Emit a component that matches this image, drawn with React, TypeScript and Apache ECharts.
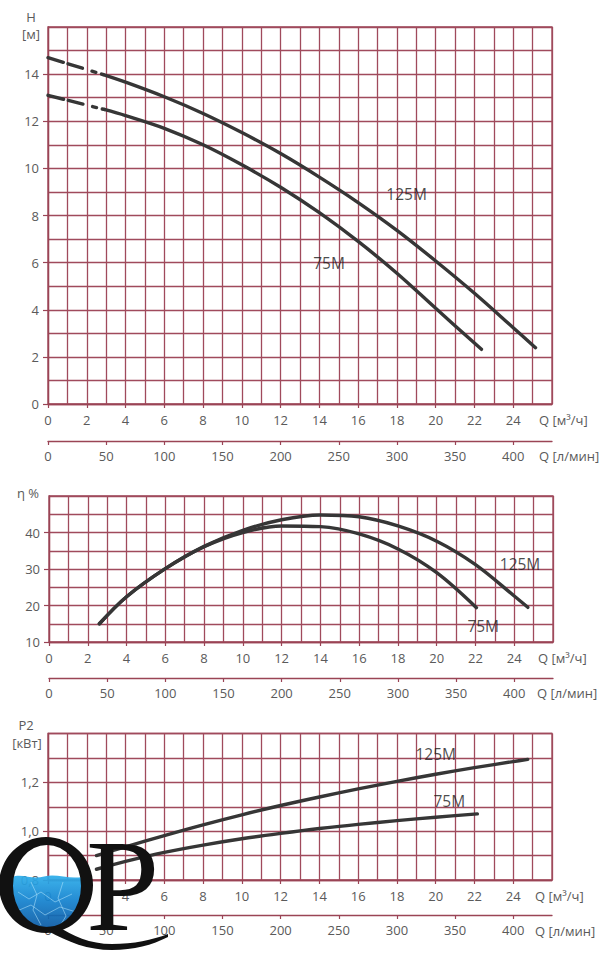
import React, { useEffect, useRef } from "react";
import * as echarts from "echarts";

// ---------- tick labels ----------
const flowTicks = [0, 2, 4, 6, 8, 10, 12, 14, 16, 18, 20, 22, 24];
const litreTicks = [0, 50, 100, 150, 200, 250, 300, 350, 400];
const headTicks = [0, 2, 4, 6, 8, 10, 12, 14];
const effTicks = [10, 20, 30, 40];
const powerTicks = [0.8, 1.0, 1.2];
const modelNames = ["125M", "75M"];

// ---------- H (head) ----------
const q125HeadDash = [0, 2.85];
const h125HeadDash = [14.7, 13.98];
const q125Head = [2.85, 4, 6, 8, 10, 12, 14, 16, 18, 20, 22, 24, 25.15];
const h125Head = [13.98, 13.66, 13.04, 12.33, 11.52, 10.63, 9.63, 8.55, 7.37, 6.07, 4.7, 3.24, 2.39];
const q75HeadDash = [0, 2.9];
const h75HeadDash = [13.1, 12.5];
const q75Head = [2.9, 4, 6, 8, 10, 12, 14, 16, 18, 20, 22.36];
const h75Head = [12.5, 12.24, 11.7, 11.0, 10.15, 9.2, 8.12, 6.9, 5.55, 4.06, 2.32];
const headLabelQ = [18.5, 14.5];
const headLabelV = [8.91, 6.0];

// ---------- η (efficiency) ----------
const q125Eff = [2.6, 4, 6, 8, 10, 12, 14, 16, 18, 20, 22, 24, 24.7];
const e125Eff = [15, 22.4, 30.1, 36.2, 40.6, 43.5, 44.8, 44.3, 41.8, 37.6, 31.2, 22.6, 19.5];
const q75Eff = [2.6, 4, 6, 8, 10, 12, 14, 16, 18, 20, 22.05];
const e75Eff = [15, 22.4, 30.1, 36.1, 40.0, 41.8, 41.6, 39.6, 35.5, 29.0, 19.4];
const effLabelQ = [24.3, 22.4];
const effLabelV = [31.3, 14.4];

// ---------- P2 (power) ----------
const q125Pow = [2.5, 4, 6, 8, 10, 12, 14, 16, 18, 20, 22, 24, 24.75];
const p125Pow = [0.9, 0.936, 0.982, 1.026, 1.067, 1.105, 1.14, 1.173, 1.204, 1.233, 1.26, 1.285, 1.294];
const q75Pow = [2.5, 4, 6, 8, 10, 12, 14, 16, 18, 20, 22.15];
const p75Pow = [0.844, 0.876, 0.913, 0.943, 0.969, 0.991, 1.011, 1.028, 1.043, 1.057, 1.071];
const powLabelQ = [20.0, 20.7];
const powLabelV = [1.316, 1.122];

const FLOW_MAX = 26;
const LITRE_MAX = (FLOW_MAX * 1000) / 60;

const FONT = '"Open Sans", "DejaVu Sans", sans-serif';
const GRID_COLOR = "#a04a5c";
const BORDER_COLOR = "#9a4455";
const LABEL_COLOR = "#5a5a5a";
const CURVE_COLOR = "#363636";

// ---------- logo shapes ----------
const ringD =
  "M -1 885 A 47 48 0 0 1 46 837 A 47 48 0 0 1 93 885 A 47 48 0 0 1 46 933 A 47 48 0 0 1 -1 885 Z " +
  "M 13 886 A 34 41 0 0 0 47 927 A 34 41 0 0 0 81 886 A 34 41 0 0 0 47 845 A 34 41 0 0 0 13 886 Z";
const tailD =
  "M 58 926 C 72 936, 90 944, 112 944 C 134 944, 152 940, 168 934 L 168 937 C 152 945, 134 950, 112 950 C 88 950, 68 942, 48 931 Z";
const waterD =
  "M 11.8 877 C 22 873, 32 880, 44 876.5 C 56 873, 68 879.5, 82.2 877 A 36 43 0 1 1 11.8 877 Z";

echarts.graphic.registerShape("qpRing", echarts.graphic.extendPath(ringD, {}));
echarts.graphic.registerShape("qpTail", echarts.graphic.extendPath(tailD, {}));
echarts.graphic.registerShape("qpWater", echarts.graphic.extendPath(waterD, {}));

const zip = (a: number[], b: number[]) => a.map((v, i) => [v, b[i]]);

const gridLineStyle = { color: GRID_COLOR, width: 1.3 };
const labelStyle = { color: LABEL_COLOR, fontFamily: FONT, fontSize: 13 };
const axisLineStyle = { show: true, onZero: false, lineStyle: { color: BORDER_COLOR, width: 1.3 } };

// main flow axis: grid lines every 1 m³/h, labels every 2
function flowAxis(gridIndex: number) {
  return {
    type: "value",
    gridIndex,
    min: 0,
    max: FLOW_MAX,
    interval: 1,
    position: "bottom",
    axisLine: axisLineStyle,
    axisTick: { show: false },
    axisLabel: { ...labelStyle, margin: 9, customValues: flowTicks },
    splitLine: { show: true, lineStyle: gridLineStyle },
  };
}

// tick-only companion axis
function flowTickAxis(gridIndex: number) {
  return {
    type: "value",
    gridIndex,
    min: 0,
    max: FLOW_MAX,
    position: "bottom",
    axisLine: { show: false },
    axisTick: { show: true, length: 4, customValues: flowTicks, lineStyle: { color: BORDER_COLOR, width: 1.2 } },
    axisLabel: { show: false },
    splitLine: { show: false },
  };
}

function litreAxis(gridIndex: number, offset: number) {
  return {
    type: "value",
    gridIndex,
    min: 0,
    max: LITRE_MAX,
    position: "bottom",
    offset,
    axisLine: axisLineStyle,
    axisTick: { show: true, length: 4, customValues: litreTicks, lineStyle: { color: BORDER_COLOR, width: 1.2 } },
    axisLabel: { ...labelStyle, margin: 8, customValues: litreTicks },
    splitLine: { show: false },
  };
}

function yAxis(gridIndex: number, min: number, max: number, interval: number, ticks: number[], fmt?: (v: number) => string) {
  return {
    type: "value",
    gridIndex,
    min,
    max,
    interval,
    axisLine: axisLineStyle,
    axisTick: { show: false },
    axisLabel: { ...labelStyle, margin: 9, customValues: ticks, formatter: fmt },
    splitLine: { show: true, lineStyle: gridLineStyle },
  };
}

function yTickAxis(gridIndex: number, min: number, max: number, ticks: number[]) {
  return {
    type: "value",
    gridIndex,
    min,
    max,
    position: "left",
    axisLine: { show: false },
    axisTick: { show: true, length: 5, customValues: ticks, lineStyle: { color: BORDER_COLOR, width: 1.2 } },
    axisLabel: { show: false },
    splitLine: { show: false },
  };
}

function curve(x: number, y: number, q: number[], v: number[], dash?: number[]) {
  return {
    type: "line",
    xAxisIndex: x,
    yAxisIndex: y,
    data: zip(q, v),
    symbol: "none",
    smooth: dash ? false : 0.35,
    silent: true,
    z: 3,
    lineStyle: { color: CURVE_COLOR, width: 3.4, type: dash || "solid", cap: "round" },
  };
}

function labels(x: number, y: number, q: number[], v: number[]) {
  return {
    type: "scatter",
    xAxisIndex: x,
    yAxisIndex: y,
    silent: true,
    symbolSize: 1,
    itemStyle: { color: "rgba(0,0,0,0)" },
    z: 5,
    label: {
      show: true,
      position: "inside",
      formatter: "{b}",
      color: "#1c1c1c",
      fontFamily: FONT,
      fontSize: 15.5,
    },
    data: q.map((qq, i) => ({ value: [qq, v[i]], name: modelNames[i] })),
  };
}

function txt(x: number, y: number, text: string, align = "left") {
  return {
    type: "text",
    x,
    y,
    z: 50,
    silent: true,
    style: { text, fill: LABEL_COLOR, fontFamily: FONT, fontSize: 13, align, verticalAlign: "middle" },
  };
}

export default function App() {
  const ref = useRef<HTMLDivElement>(null);

  useEffect(() => {
    if (!ref.current) return;
    const chart = echarts.init(ref.current, undefined, { renderer: "svg" });
    const dash = [16, 5, 15, 10, 4, 6];
    const waterFill = new echarts.graphic.LinearGradient(0, 0, 0, 1, [
      { offset: 0, color: "#2eaeea" },
      { offset: 0.45, color: "#1584d0" },
      { offset: 1, color: "#0b58a2" },
    ]);
    const caustic = { stroke: "rgba(190,235,255,0.5)", lineWidth: 1, fill: "none" };

    chart.setOption({
      animation: false,
      backgroundColor: "#ffffff",
      grid: [
        { left: 48, top: 27, width: 504, height: 377, show: true, borderColor: BORDER_COLOR, borderWidth: 1.3, backgroundColor: "#fff" },
        { left: 49, top: 496, width: 504, height: 146, show: true, borderColor: BORDER_COLOR, borderWidth: 1.3, backgroundColor: "#fff" },
        { left: 48, top: 733.5, width: 504, height: 146.5, show: true, borderColor: BORDER_COLOR, borderWidth: 1.3, backgroundColor: "#fff" },
      ],
      xAxis: [
        flowAxis(0), litreAxis(0, 37), flowTickAxis(0),
        flowAxis(1), litreAxis(1, 36), flowTickAxis(1),
        flowAxis(2), litreAxis(2, 35), flowTickAxis(2),
      ],
      yAxis: [
        yAxis(0, 0, 16, 1, headTicks),
        yAxis(1, 10, 50, 5, effTicks),
        yAxis(2, 0.8, 1.4, 0.1, powerTicks, (v: number) => v.toFixed(1).replace(".", ",")),
        yTickAxis(0, 0, 16, headTicks),
        yTickAxis(1, 10, 50, effTicks),
        yTickAxis(2, 0.8, 1.4, powerTicks),
      ],
      series: [
        curve(0, 0, q125HeadDash, h125HeadDash, dash),
        curve(0, 0, q75HeadDash, h75HeadDash, dash),
        curve(0, 0, q125Head, h125Head),
        curve(0, 0, q75Head, h75Head),
        labels(0, 0, headLabelQ, headLabelV),
        curve(3, 1, q125Eff, e125Eff),
        curve(3, 1, q75Eff, e75Eff),
        labels(3, 1, effLabelQ, effLabelV),
        curve(6, 2, q125Pow, p125Pow),
        curve(6, 2, q75Pow, p75Pow),
        labels(6, 2, powLabelQ, powLabelV),
      ],
      graphic: [
        txt(31, 17, "H", "center"),
        txt(31, 34, "[м]", "center"),
        txt(539, 420, "Q [м³/ч]"),
        txt(539, 456, "Q [л/мин]"),
        txt(28, 493, "η %", "center"),
        txt(538, 658, "Q [м³/ч]"),
        txt(537, 693, "Q [л/мин]"),
        txt(26, 725, "P2", "center"),
        txt(27, 743, "[кВт]", "center"),
        txt(535, 896, "Q [м³/ч]"),
        txt(535, 931, "Q [л/мин]"),
        // logo
        { type: "qpWater", x: 0, y: 0, z: 100, silent: true, style: { fill: waterFill, opacity: 0.93 } },
        { type: "polyline", z: 101, silent: true, shape: { points: [[18, 892], [29, 899], [41, 892], [55, 902], [72, 894]] }, style: caustic },
        { type: "polyline", z: 101, silent: true, shape: { points: [[17, 911], [31, 905], [45, 915], [60, 907], [76, 912]] }, style: caustic },
        { type: "polyline", z: 101, silent: true, shape: { points: [[31, 882], [37, 895], [33, 910], [41, 925]] }, style: caustic },
        { type: "polyline", z: 101, silent: true, shape: { points: [[63, 882], [58, 898], [66, 916], [60, 926]] }, style: caustic },
        { type: "qpRing", x: 0, y: 0, z: 102, silent: true, style: { fill: "#111111" } },
        { type: "qpTail", x: 0, y: 0, z: 102, silent: true, style: { fill: "#111111" } },
        {
          type: "text",
          x: 86,
          y: 885,
          z: 102,
          silent: true,
          style: {
            text: "P",
            fill: "#111111",
            fontFamily: '"Liberation Serif", "DejaVu Serif", serif',
            fontSize: 132,
            align: "left",
            verticalAlign: "middle",
          },
        },
      ],
    });
    return () => chart.dispose();
  }, []);

  return (
    <div
      ref={ref}
      style={{ position: "absolute", left: 0, top: 0, width: 610, height: 953, background: "#fff" }}
    />
  );
}
